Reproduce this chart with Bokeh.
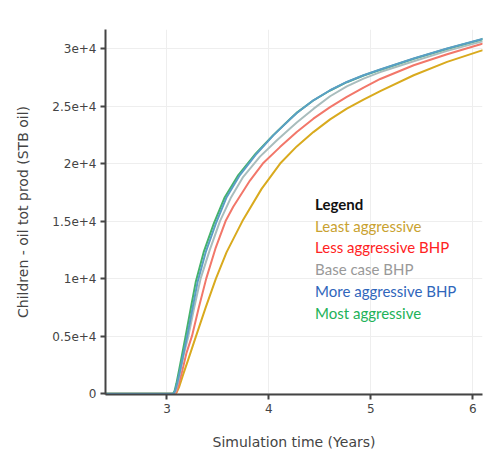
from bokeh.plotting import figure
from bokeh.models import FixedTicker, Label, Range1d
from bokeh.embed import file_html
from bokeh.resources import INLINE

# ---- data ----
least_x = [2.3, 3.08, 3.095, 3.12, 3.16, 3.21, 3.285, 3.38, 3.48, 3.585, 3.74, 3.928, 4.11,
           4.273, 4.436, 4.60, 4.764, 4.928, 5.092, 5.42, 5.748, 6.076, 6.1]
least_y = [0, 0, 120, 600, 1700, 3000, 5000, 7500, 10000, 12300, 15000, 17800, 20000,
           21490, 22735, 23840, 24770, 25560, 26300, 27675, 28835, 29790, 29850]

less_x = [2.3, 3.08, 3.095, 3.115, 3.15, 3.19, 3.245, 3.31, 3.385, 3.475, 3.575, 3.65, 3.814,
          3.94, 4.108, 4.273, 4.436, 4.60, 4.764, 4.928, 5.092, 5.42, 5.748, 6.076, 6.1]
less_y = [0, 0, 200, 800, 2000, 3500, 5000, 7400, 10000, 12600, 15000, 16250, 18525,
          20000, 21430, 22750, 23900, 24900, 25800, 26600, 27350, 28545, 29505, 30375, 30430]

base_x = [2.3, 3.07, 3.085, 3.105, 3.135, 3.165, 3.21, 3.265, 3.33, 3.42, 3.52, 3.625, 3.748,
          3.912, 4.076, 4.207, 4.273, 4.436, 4.60, 4.764, 4.928, 5.092, 5.42, 5.748, 6.076, 6.1]
base_y = [0, 0, 250, 900, 2100, 3400, 5000, 7400, 10000, 12500, 15000, 17000, 18850,
          20600, 22000, 23050, 23560, 24750, 25850, 26700, 27385, 27950, 28890, 29790, 30575, 30630]

more_x = [2.3, 3.065, 3.08, 3.10, 3.13, 3.16, 3.20, 3.25, 3.30, 3.38, 3.48, 3.585, 3.715,
          3.879, 4.043, 4.207, 4.273, 4.436, 4.60, 4.764, 4.928, 5.092, 5.42, 5.748, 6.076, 6.1]
more_y = [0, 0, 250, 900, 2100, 3400, 5100, 7400, 9700, 12300, 14800, 17073, 19000,
          20855, 22450, 23850, 24400, 25497, 26370, 27090, 27675, 28170, 29130, 30000, 30780, 30840]

most_x = [2.3, 3.06, 3.075, 3.093, 3.12, 3.148, 3.185, 3.233, 3.282, 3.36, 3.46, 3.567, 3.70,
          3.870, 4.04, 4.205, 4.271, 4.435, 4.60, 4.764, 4.928, 5.092, 5.42, 5.748, 6.076, 6.1]
most_y = [0, 0, 250, 900, 2100, 3400, 5100, 7400, 9700, 12300, 14800, 17073, 19000,
          20855, 22450, 23850, 24400, 25480, 26350, 27070, 27650, 28150, 29110, 29980, 30760, 30820]

x_ticks = [3, 4, 5, 6]
y_ticks = [0, 5000, 10000, 15000, 20000, 25000, 30000]
y_tick_labels = ["0", "0.5e+4", "1e+4", "1.5e+4", "2e+4", "2.5e+4", "3e+4"]

legend_title = "Legend"
legend_labels = ["Least aggressive", "Less aggressive BHP", "Base case BHP",
                 "More aggressive BHP", "Most aggressive"]
legend_text_colors = ["#c9a230", "#ff2222", "#999999", "#2f66bb", "#22b258"]

line_colors = {
    "least": "#d9aa1e",
    "less": "#f2776a",
    "base": "#a9bdbd",
    "most": "#45b36b",
    "more": "#5a9ec6",
}

# ---- figure ----
p = figure(width=489, height=454, output_backend="svg", toolbar_location=None,
           x_range=Range1d(2.397, 6.095), y_range=Range1d(-70, 31650),
           min_border_left=105, min_border_right=7, min_border_top=29, min_border_bottom=60)
p.outline_line_color = None
p.background_fill_color = "white"

for xs, ys, key in [(least_x, least_y, "least"), (less_x, less_y, "less"),
                    (base_x, base_y, "base"), (most_x, most_y, "most"),
                    (more_x, more_y, "more")]:
    p.line(xs, ys, line_color=line_colors[key], line_width=2, line_join="round")

# axes
p.xaxis.ticker = FixedTicker(ticks=x_ticks)
p.yaxis.ticker = FixedTicker(ticks=y_ticks)
p.yaxis.major_label_overrides = {t: l for t, l in zip(y_ticks, y_tick_labels)}
p.xaxis.major_label_overrides = {t: str(t) for t in x_ticks}
p.xaxis.axis_label = "Simulation time (Years)"
p.yaxis.axis_label = "Children - oil tot prod (STB oil)"

for ax in (p.xaxis[0], p.yaxis[0]):
    ax.axis_line_color = "#444444"
    ax.axis_line_width = 2
    ax.major_tick_line_color = "#444444"
    ax.major_tick_line_width = 2
    ax.major_tick_out = 5
    ax.major_tick_in = 0
    ax.minor_tick_line_color = None
    ax.major_label_text_font = "DejaVu Sans"
    ax.major_label_text_font_size = "12px"
    ax.major_label_text_color = "#444444"
    ax.axis_label_text_font = "DejaVu Sans"
    ax.axis_label_text_font_size = "14px"
    ax.axis_label_text_color = "#444444"
    ax.axis_label_text_font_style = "normal"
    ax.major_label_standoff = 4
p.yaxis.axis_label_standoff = 18
p.xaxis.axis_label_standoff = 18

p.xgrid.grid_line_color = "#eeeeee"
p.ygrid.grid_line_color = "#eeeeee"
p.xgrid.grid_line_width = 1
p.ygrid.grid_line_width = 1

# legend annotation (text block)
lx = 4.453
ly0 = 16500
dy = 1890
p.add_layout(Label(x=lx, y=ly0, text=legend_title, text_font="Lato", text_font_size="15px",
                   text_font_style="bold", text_color="#111111", text_baseline="middle"))
for i, (lab, col) in enumerate(zip(legend_labels, legend_text_colors)):
    p.add_layout(Label(x=lx, y=ly0 - dy * (i + 1), text=lab, text_font="Lato",
                       text_font_size="15px", text_color=col, text_baseline="middle"))

open("out.html", "w").write(file_html(p, INLINE))
